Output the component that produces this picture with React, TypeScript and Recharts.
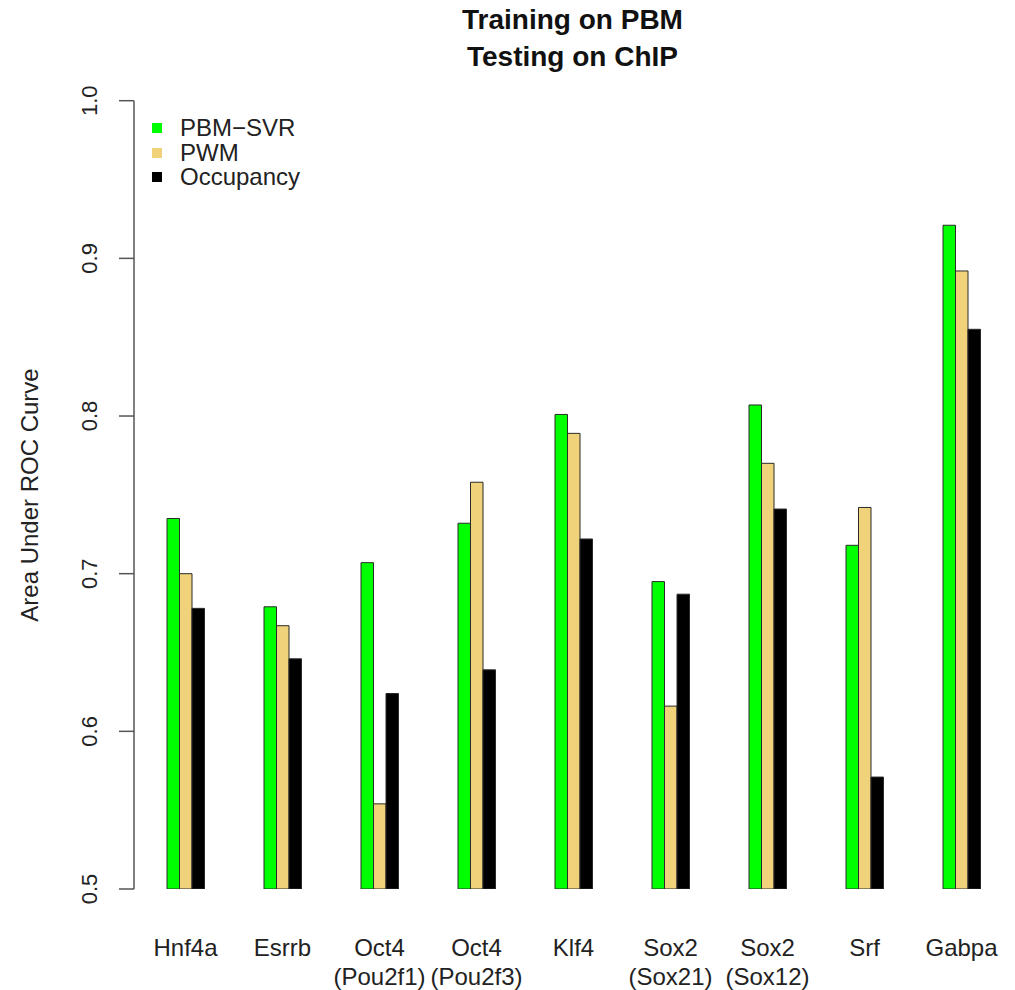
import React from "react";
import { BarChart, Bar, XAxis, YAxis } from "recharts";

const categories = ["Hnf4a", "Esrrb", "Oct4\n(Pou2f1)", "Oct4\n(Pou2f3)", "Klf4", "Sox2\n(Sox21)", "Sox2\n(Sox12)", "Srf", "Gabpa"];
const pbmSvr = [0.735, 0.679, 0.707, 0.732, 0.801, 0.695, 0.807, 0.718, 0.921];
const pwm = [0.700, 0.667, 0.554, 0.758, 0.789, 0.616, 0.770, 0.742, 0.892];
const occupancy = [0.678, 0.646, 0.624, 0.639, 0.722, 0.687, 0.741, 0.571, 0.855];
const yTicks = [0.5, 0.6, 0.7, 0.8, 0.9, 1.0];

const seriesNames = ["PBM\u2212SVR", "PWM", "Occupancy"];
const seriesColors = ["#00FF00", "#F0D27B", "#000000"];

const data = categories.map((c, i) => ({
  name: c,
  svr: pbmSvr[i],
  pwm: pwm[i],
  occ: occupancy[i],
}));

const FONT = "'Liberation Sans', Arial, Helvetica, sans-serif";

const YTick = (props: any) => {
  const { x, y, payload } = props;
  const bx = x - 22;
  return (
    <text
      x={bx}
      y={y}
      transform={`rotate(-90, ${bx}, ${y})`}
      textAnchor="middle"
      fontFamily={FONT}
      fontSize={22}
      fill="#222"
    >
      {payload.value.toFixed(1)}
    </text>
  );
};

const XTick = (props: any) => {
  const { x, y, payload } = props;
  const lines = String(payload.value).split("\n");
  return (
    <g>
      {lines.map((l, i) => (
        <text
          key={i}
          x={x}
          y={y + 67 + i * 29}
          textAnchor="middle"
          fontFamily={FONT}
          fontSize={24}
          fill="#222"
        >
          {l}
        </text>
      ))}
    </g>
  );
};

const LegendBox = () => (
  <div
    style={{
      position: "absolute",
      left: 152,
      top: 116,
      fontFamily: FONT,
      fontSize: 24,
      color: "#222",
    }}
  >
    {seriesNames.map((n, i) => (
      <div key={n} style={{ display: "flex", alignItems: "center", height: 24.5 }}>
        <span
          style={{
            display: "inline-block",
            width: 10,
            height: 10,
            background: seriesColors[i],
            marginRight: 18,
          }}
        />
        <span style={{ lineHeight: "24.5px" }}>{n}</span>
      </div>
    ))}
  </div>
);

const YLabel = () => (
  <text
    x={38}
    y={495}
    transform="rotate(-90, 38, 495)"
    textAnchor="middle"
    fontFamily={FONT}
    fontSize={24}
    fill="#222"
  >
    Area Under ROC Curve
  </text>
);

export default function App() {
  return (
    <div style={{ position: "absolute", left: 0, top: 0, width: 1015, height: 990, background: "#fff" }}>
      <div
        style={{
          position: "absolute",
          left: 0,
          top: 0,
          width: 1015,
          textAlign: "center",
          fontFamily: FONT,
          fontWeight: "bold",
          fontSize: 28,
          color: "#111",
        }}
      >
        <div style={{ position: "absolute", left: 130, width: 885, top: 3, lineHeight: "34px" }}>Training on PBM</div>
        <div style={{ position: "absolute", left: 130, width: 885, top: 40, lineHeight: "34px" }}>Testing on ChIP</div>
      </div>
      <BarChart
        width={1015}
        height={990}
        data={data}
        margin={{ top: 100.7, right: 5, left: 34, bottom: 71 }}
        barSize={12.5}
        barGap={0}
      >
        <XAxis
          dataKey="name"
          axisLine={false}
          tickLine={false}
          tickSize={0}
          tickMargin={0}
          height={30}
          interval={0}
          padding={{ left: 3, right: 0 }}
          tick={<XTick />}
        />
        <YAxis
          type="number"
          domain={[0.5, 1.0]}
          ticks={yTicks}
          width={100}
          tickSize={15}
          tickMargin={0}
          axisLine={{ stroke: "#555", strokeWidth: 1.5 }}
          tickLine={{ stroke: "#555", strokeWidth: 1.5 }}
          tick={<YTick />}
          allowDataOverflow
          label={<YLabel />}
        />
        <Bar dataKey="svr" name={seriesNames[0]} fill={seriesColors[0]} stroke="#2a2a2a" strokeWidth={1} isAnimationActive={false} />
        <Bar dataKey="pwm" name={seriesNames[1]} fill={seriesColors[1]} stroke="#2a2a2a" strokeWidth={1} isAnimationActive={false} />
        <Bar dataKey="occ" name={seriesNames[2]} fill={seriesColors[2]} stroke="#2a2a2a" strokeWidth={1} isAnimationActive={false} />
      </BarChart>
      <LegendBox />
    </div>
  );
}
